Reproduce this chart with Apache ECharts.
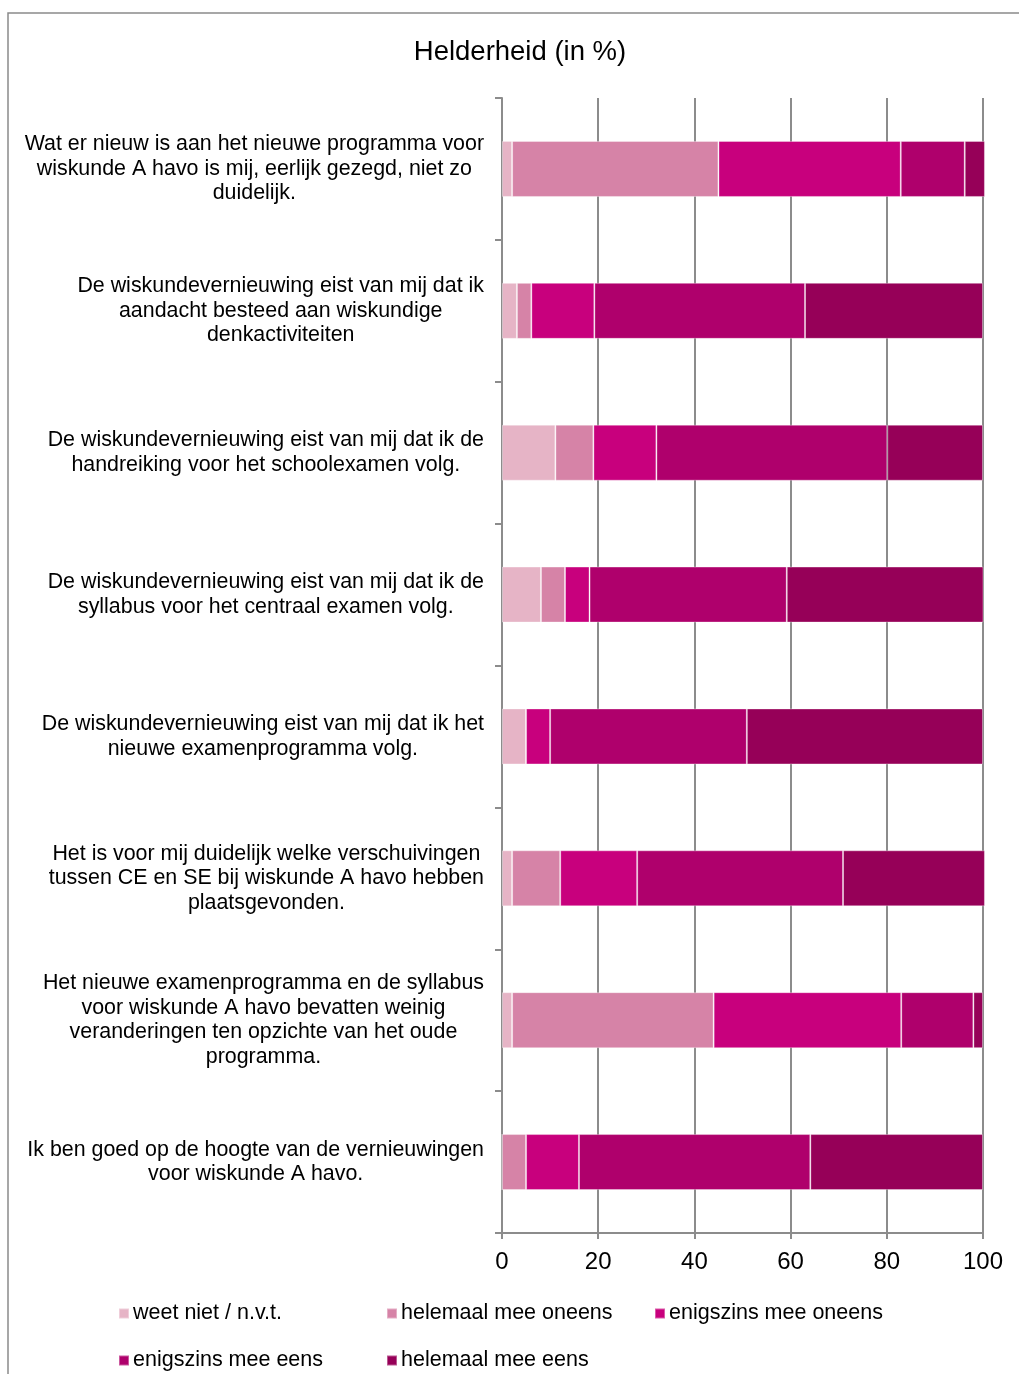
<!DOCTYPE html>
<html>
<head>
<meta charset="utf-8">
<script src="https://cdn.jsdelivr.net/npm/echarts@6/dist/echarts.min.js"></script>
<style>
  html, body { margin: 0; padding: 0; background: #fff; }
  #chart { width: 1019px; height: 1374px; }
</style>
</head>
<body>
<div id="chart"></div>
<script>
// stellingen (van boven naar beneden)
var categories = [
    'Wat er nieuw is aan het nieuwe programma voor\nwiskunde A havo is mij, eerlijk gezegd, niet zo\nduidelijk.',
    'De wiskundevernieuwing eist van mij dat ik\naandacht besteed aan wiskundige\ndenkactiviteiten',
    'De wiskundevernieuwing eist van mij dat ik de\nhandreiking voor het schoolexamen volg.',
    'De wiskundevernieuwing eist van mij dat ik de\nsyllabus voor het centraal examen volg.',
    'De wiskundevernieuwing eist van mij dat ik het\nnieuwe examenprogramma volg.',
    'Het is voor mij duidelijk welke verschuivingen\ntussen CE en SE bij wiskunde A havo hebben\nplaatsgevonden.',
    'Het nieuwe examenprogramma en de syllabus\nvoor wiskunde A havo bevatten weinig\nveranderingen ten opzichte van het oude\nprogramma.',
    'Ik ben goed op de hoogte van de vernieuwingen\nvoor wiskunde A havo.'
];

var seriesNames = ['weet niet / n.v.t.', 'helemaal mee oneens', 'enigszins mee oneens', 'enigszins mee eens', 'helemaal mee eens'];

var weetNiet        = [2.1, 3.1, 11.1, 8.1, 5.0, 2.1, 2.1, 0];
var helemaalOneens  = [42.9, 3.0, 7.9, 5.0, 0, 10.0, 41.9, 5.0];
var enigszinsOneens = [37.9, 13.1, 13.1, 5.1, 5.0, 16.0, 39.0, 11.0];
var enigszinsEens   = [13.3, 43.8, 48.0, 41.0, 40.9, 42.8, 15.0, 48.1];
var helemaalEens    = [4.2, 37.0, 19.9, 40.9, 49.1, 29.5, 2.0, 35.9];

var xTicks = [0, 20, 40, 60, 80, 100];

var colors = ['#E6B4C6', '#D683A7', '#C8007D', '#AF006C', '#960058'];
var font = '"Liberation Sans", Arial, sans-serif';

var allData = [weetNiet, helemaalOneens, enigszinsOneens, enigszinsEens, helemaalEens];

var series = [];
for (var i = 0; i < seriesNames.length; i++) {
    series.push({
        name: seriesNames[i],
        type: 'bar',
        stack: 'totaal',
        barWidth: 56,
        clip: false,
        itemStyle: {
            color: colors[i],
            borderColor: 'rgba(255,255,255,0.35)',
            borderWidth: 1
        },
        emphasis: { disabled: true },
        data: allData[i]
    });
}

var eChart = echarts.init(document.getElementById('chart'));
var option = {
    backgroundColor: '#fff',
    animation: false,
    color: colors,
    textStyle: { fontFamily: font },
    title: {
        text: 'Helderheid (in %)',
        left: 515,
        textAlign: 'center',
        top: 33,
        textStyle: { fontFamily: font, fontSize: 27.5, fontWeight: 'normal', color: '#000' }
    },
    graphic: [{
        type: 'rect',
        shape: { x: 8, y: 13, width: 1200, height: 1500 },
        style: { fill: 'none', stroke: '#8a8a8a', lineWidth: 1.5 },
        silent: true
    }],
    grid: { left: 502, right: 36, top: 98, bottom: 141 },
    legend: {
        left: 118,
        top: 1295,
        width: 820,
        padding: 0,
        itemWidth: 10,
        itemHeight: 10,
        itemGap: 10,
        icon: 'rect',
        data: seriesNames,
        textStyle: { fontFamily: font, fontSize: 21.5, color: '#000', width: 243, lineHeight: 37, padding: [0, 0, 0, -1] }
    },
    xAxis: {
        type: 'value',
        min: 0,
        max: 100,
        interval: 20,
        axisLine: { show: true, lineStyle: { color: '#8c8c8c', width: 2 } },
        axisTick: { show: true, length: 6, lineStyle: { color: '#8c8c8c', width: 2 } },
        splitLine: { show: true, lineStyle: { color: '#8c8c8c', width: 2 } },
        axisLabel: {
            margin: 17,
            fontFamily: font,
            fontSize: 24,
            color: '#000',
            formatter: function (v) { return xTicks.indexOf(v) > -1 ? String(v) : ''; }
        }
    },
    yAxis: {
        type: 'category',
        inverse: true,
        data: categories,
        axisLine: { show: true, lineStyle: { color: '#8c8c8c', width: 2 } },
        axisTick: { show: true, length: 7, lineStyle: { color: '#8c8c8c', width: 2 } },
        axisLabel: {
            margin: 18,
            color: '#000',
            formatter: function (v) {
                return v.split('\n').map(function (l) { return '{c|' + l + '}'; }).join('\n');
            },
            rich: {
                c: { align: 'center', fontFamily: font, fontSize: 21.4, lineHeight: 24.5, color: '#000' }
            }
        }
    },
    series: series
};
eChart.setOption(option);
</script>
</body>
</html>
